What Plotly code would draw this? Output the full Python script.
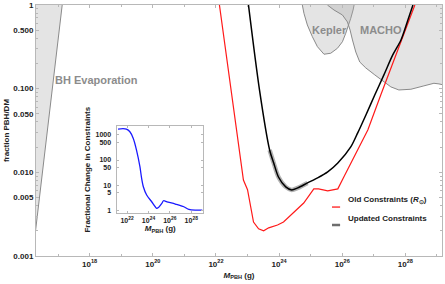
import numpy as np
import plotly.graph_objects as go

# ---------------- data ----------------
# Old constraints (R_sun), red
old_logm = [22.11, 22.49, 22.87, 23.00, 23.19, 23.35, 23.51, 23.67, 23.95, 24.14, 24.46,
            24.78, 25.10, 25.25, 25.54, 25.86, 26.05, 26.33, 26.81, 27.22, 27.70, 28.30]
old_f = [1.0, 0.096, 0.0081, 0.0062, 0.00255, 0.00211, 0.0020, 0.00217, 0.00235, 0.00255, 0.00327,
         0.0043, 0.00634, 0.00634, 0.0060, 0.00634, 0.0088, 0.0141, 0.0321, 0.084, 0.253, 1.0]

# Updated constraints, black
new_logm = [23.03, 23.38, 23.70, 23.83, 23.98, 24.21, 24.40, 24.59, 24.90, 25.22, 25.54,
            25.86, 26.27, 26.49, 26.75, 27.03, 27.32, 27.60, 27.86, 28.08, 28.24]
new_f = [1.0, 0.096, 0.0185, 0.0129, 0.0088, 0.0067, 0.00616, 0.00651, 0.00747, 0.00857, 0.0101,
         0.0129, 0.0201, 0.0296, 0.0485, 0.084, 0.146, 0.253, 0.382, 0.662, 1.0]

# BH evaporation boundary
evap_logm = [16.0, 17.185, 16.0]
evap_f = [0.000245, 1.5, 1.5]

# Kepler region boundary
kep_logm = [24.70, 24.736, 24.787, 24.895, 25.054, 25.213, 25.422, 25.635, 25.848, 26.006,
            26.111, 26.184, 26.27, 26.343, 26.375, 26.40]
kep_f = [1.5, 1.0, 0.796, 0.577, 0.418, 0.318, 0.258, 0.265, 0.304, 0.364,
         0.459, 0.550, 0.694, 0.871, 1.0, 1.5]

# MACHO region boundary
macho_logm = [25.48, 25.53, 25.74, 26.006, 26.165, 26.248, 26.324, 26.43, 26.556, 26.746, 27.032,
              27.286, 27.54, 27.794, 28.175, 28.587, 28.905, 29.063, 29.5, 29.5]
macho_f = [1.5, 1.0, 0.871, 0.760, 0.627, 0.503, 0.382, 0.274, 0.208, 0.177, 0.146,
           0.124, 0.105, 0.0965, 0.0984, 0.108, 0.116, 0.114, 0.105, 1.5]

# Inset: fractional change
ratio_logm = [21.15, 21.62, 21.93, 22.26, 22.57, 22.88, 23.20, 23.36, 23.52, 23.83, 24.30,
              24.78, 24.94, 25.25, 25.41, 25.73, 26.52, 27.31, 27.78, 28.42, 29.04]
ratio_val = [1700, 1780, 1700, 1350, 740, 250, 54, 18.5, 8.6, 4.0, 2.15,
             1.17, 1.28, 1.85, 2.36, 2.15, 1.74, 1.36, 1.07, 1.0, 1.0]

main_xticks = [18, 20, 22, 24, 26, 28]
main_yticks = [0.001, 0.005, 0.01, 0.05, 0.1, 0.5, 1]
main_yticktext = ["0.001", "0.005", "0.010", "0.050", "0.100", "0.500", "1"]
inset_xticks = [22, 24, 26, 28]
inset_yticks = [1, 5, 10, 50, 100, 500, 1000]

# ---------------- figure ----------------
FONT = "Liberation Sans"
GRAY_FILL = "rgba(170,170,170,0.32)"
REGION_LINE = "#8a8a8a"
FRAME = "#b8b8b8"

fig = go.Figure()

def pw(a):
    return [10.0 ** v for v in a]

for lx, fy in [(evap_logm, evap_f), (kep_logm, kep_f), (macho_logm, macho_f)]:
    fig.add_trace(go.Scatter(x=pw(lx), y=fy, mode="lines", fill="toself", fillcolor=GRAY_FILL,
                             line=dict(color=REGION_LINE, width=1), hoverinfo="skip", showlegend=False))

# uncertainty band around updated constraints minimum
band_x = [x for x in new_logm if 23.5 <= x <= 24.95]
band_y = [f for x, f in zip(new_logm, new_f) if 23.5 <= x <= 24.95]
fig.add_trace(go.Scatter(x=pw(band_x), y=band_y, mode="lines",
                         line=dict(color="rgba(0,0,0,0.3)", width=4.5, shape="spline", smoothing=0.8),
                         showlegend=False, hoverinfo="skip"))

fig.add_trace(go.Scatter(x=pw(old_logm), y=old_f, mode="lines",
                         line=dict(color="#ff1a1a", width=1.2), showlegend=False))
fig.add_trace(go.Scatter(x=pw(new_logm), y=new_f, mode="lines",
                         line=dict(color="#000000", width=1.5, shape="spline", smoothing=0.8),
                         showlegend=False))

fig.add_trace(go.Scatter(x=pw(ratio_logm), y=ratio_val, mode="lines", xaxis="x2", yaxis="y2",
                         line=dict(color="#1a1aff", width=1.3, shape="spline", smoothing=0.8),
                         showlegend=False))

tickfont = dict(family=FONT, size=8, color="#222", weight="bold")
inset_font = dict(family=FONT, size=7, color="#222", weight="bold")
title_font = dict(family=FONT, size=8, color="#222", weight="bold")

fig.update_layout(
    width=445, height=284,
    margin=dict(l=36, r=3, t=5, b=28, autoexpand=False),
    paper_bgcolor="white", plot_bgcolor="white",
    showlegend=False,
    xaxis=dict(type="log", range=[16.3, 29.16], automargin=False,
               tickvals=[10.0 ** v for v in main_xticks],
               ticktext=[f"10<sup>{v}</sup>" for v in main_xticks],
               ticks="inside", ticklen=3, tickcolor=FRAME,
               showline=True, linecolor=FRAME, linewidth=1, mirror="ticks",
               showgrid=False, zeroline=False, tickfont=tickfont,
               minor=dict(tickvals=[10.0 ** v for v in range(17, 30, 2)], ticks="inside",
                          ticklen=2, tickcolor=FRAME),
               title=dict(text="<i>M</i><sub>PBH</sub> (g)", font=title_font, standoff=4)),
    yaxis=dict(type="log", range=[-3, 0], automargin=False,
               tickvals=main_yticks, ticktext=main_yticktext,
               ticks="inside", ticklen=3, tickcolor=FRAME,
               showline=True, linecolor=FRAME, linewidth=1, mirror="ticks",
               showgrid=False, zeroline=False, tickfont=tickfont,
               minor=dict(tickvals=[m * 10.0 ** e for e in (-3, -2, -1) for m in (2, 3, 4, 6, 7, 8, 9)],
                          ticks="inside", ticklen=2, tickcolor=FRAME),
               title=dict(text="fraction PBH/DM", font=title_font, standoff=2)),
    xaxis2=dict(type="log", range=[21.1, 29.1], domain=[0.2007, 0.4113], anchor="y2", automargin=False,
                tickvals=[10.0 ** v for v in inset_xticks],
                ticktext=[f"10<sup>{v}</sup>" for v in inset_xticks],
                ticks="inside", ticklen=2, tickcolor=FRAME,
                showline=True, linecolor=FRAME, linewidth=1, mirror="ticks",
                showgrid=False, zeroline=False, tickfont=inset_font,
                title=dict(text="<i>M</i><sub>PBH</sub> (g)", font=title_font, standoff=2)),
    yaxis2=dict(type="log", range=[-0.13, 3.36], domain=[0.170, 0.518], anchor="x2", automargin=False,
                tickvals=inset_yticks, ticktext=[str(v) for v in inset_yticks],
                ticks="inside", ticklen=2, tickcolor=FRAME,
                showline=True, linecolor=FRAME, linewidth=1, mirror="ticks",
                showgrid=False, zeroline=False, tickfont=inset_font, ticklabelstandoff=4,
                title=dict(text="Fractional Change in Constraints", font=title_font, standoff=3)),
)

label_font = dict(family=FONT, size=11, color="#8c8c8c", weight="bold")
fig.add_annotation(x=18.21, y=-0.896, xref="x", yref="y", text="BH Evaporation",
                   showarrow=False, font=label_font)
fig.add_annotation(x=25.60, y=-0.299, xref="x", yref="y", text="Kepler",
                   showarrow=False, font=label_font)
fig.add_annotation(x=27.22, y=-0.299, xref="x", yref="y", text="MACHO",
                   showarrow=False, font=label_font)

# manual legend
leg_font = dict(family=FONT, size=8, color="#222", weight="bold")
fig.add_shape(type="line", xref="paper", yref="paper", x0=0.729, x1=0.749, y0=0.195, y1=0.195,
              line=dict(color="#ff1a1a", width=1.3))
fig.add_shape(type="line", xref="paper", yref="paper", x0=0.729, x1=0.749, y0=0.1235, y1=0.1235,
              line=dict(color="#6e6e6e", width=2.5))
fig.add_annotation(x=0.7635, y=0.195, xref="paper", yref="paper", xanchor="left",
                   text="Old Constraints (<i>R</i><sub>⊙</sub>)", showarrow=False, font=leg_font)
fig.add_annotation(x=0.7635, y=0.1235, xref="paper", yref="paper", xanchor="left",
                   text="Updated Constraints", showarrow=False, font=leg_font)

fig.write_html("out.html", config={"displayModeBar": False},
               post_script="document.body.style.margin='0';")
